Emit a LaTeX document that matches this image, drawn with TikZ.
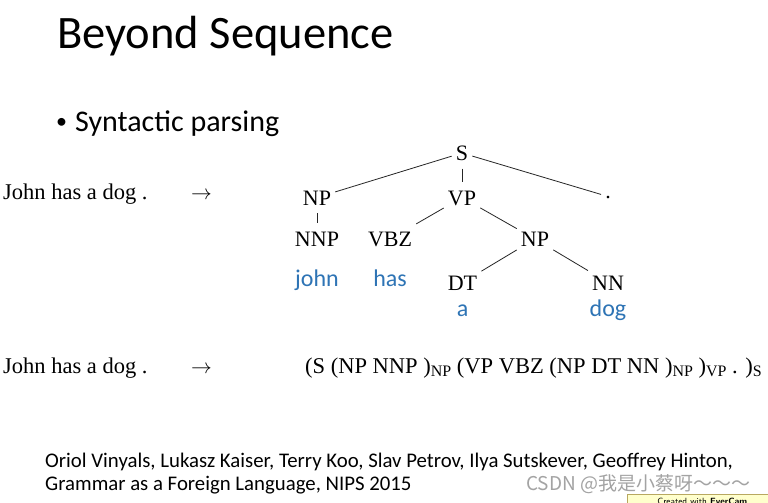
\documentclass[tikz,border=0pt]{standalone}
\usepackage{fontspec}
\setmainfont{Liberation Serif}
\newfontfamily\slidefont{Carlito}
\newfontfamily\cjkfont{Noto Sans CJK SC}
\usetikzlibrary{positioning}
\definecolor{WordBlue}{HTML}{2E74B5}
\definecolor{MarkGray}{HTML}{A3A3A3}
\definecolor{BadgeYellow}{HTML}{FFFFCC}
\definecolor{BadgeEdge}{HTML}{B8A860}
\newcommand{\phr}[1]{\raisebox{-0.3ex}{\fontsize{16}{16}\selectfont #1}}

\begin{document}
\begin{tikzpicture}[
  x=1pt,y=-1pt,
  every node/.style={inner sep=0pt},
  title/.style={anchor=base west,font=\slidefont\fontsize{46.5}{46.5}\selectfont},
  point/.style={anchor=base west,font=\slidefont\fontsize{30}{30}\selectfont},
  cat/.style={font=\fontsize{22}{22}\selectfont,text height=15pt,text depth=0pt,
    inner xsep=4pt,inner ysep=8pt},
  word/.style={anchor=base,text=WordBlue,font=\slidefont\fontsize{24}{24}\selectfont},
  sent/.style={anchor=base west,font=\fontsize{22.5}{22.5}\selectfont},
  cite/.style={anchor=base west,font=\slidefont\fontsize{20.8}{20.8}\selectfont},
  badge/.style={anchor=north west,fill=BadgeYellow,draw=BadgeEdge,line width=0.5pt,
    minimum width=150pt,minimum height=14pt,inner xsep=6pt,inner ysep=1.5pt,
    align=left,font=\sffamily\fontsize{9}{9}\selectfont},
  branch/.style={line width=0.8pt,draw=black!85}
]
  \fill[white] (0,0) rectangle (768,503);
  \useasboundingbox (0,0) rectangle (768,503);

  % heading
  \node[title] (head) at (57,48.5) {Beyond Sequence};
  \node[point,font=\slidefont\fontsize{22}{22}\selectfont] (dotpt) at (56,128.5) {\textbullet};
  \node[point] (task) at (75,131.5) {Syntactic parsing};

  % parse tree
  \node[cat] (s) at (462,153) {S};
  \node[cat] (np) at (317,197.5) {NP};
  \node[cat] (vp) at (462,197.5) {VP};
  \node[cat,text height=3pt] (stop) at (608,196.5) {.};
  \node[cat] (nnp) at (317,239) {NNP};
  \node[cat] (vbz) at (390,239) {VBZ};
  \node[cat] (np2) at (535,239) {NP};
  \node[cat] (dt) at (462.5,282.5) {DT};
  \node[cat] (nn) at (608,282.5) {NN};
  \foreach \a/\b in {s/np,s/vp,s/stop,np/nnp,vp/vbz,vp/np2,np2/dt,np2/nn}
    {\draw[branch] (\a) -- (\b);}

  \node[word] (john) at (317,286.5) {john};
  \node[word] (has) at (390,286.5) {has};
  \node[word] (a) at (462.5,316.5) {a};
  \node[word] (dog) at (608,316.5) {dog};

  % sentence -> tree, sentence -> bracketing
  \node[sent] (src1) at (3,199) {John has a dog .};
  \node[sent] (arr1) at (191,199) {$\rightarrow$};
  \node[sent] (src2) at (3,373) {John has a dog .};
  \node[sent] (arr2) at (191,373) {$\rightarrow$};
  \node[sent] (lin) at (305,373) {(S (NP NNP )\phr{NP} (VP VBZ (NP DT NN )\phr{NP} )\phr{VP} . )\phr{S}};

  % reference
  \node[cite] (ref1) at (45,467) {Oriol Vinyals, Lukasz Kaiser, Terry Koo, Slav Petrov, Ilya Sutskever, Geoffrey Hinton,};
  \node[cite] (ref2) at (45,490) {Grammar as a Foreign Language, NIPS 2015};

  \node[anchor=base west,text=MarkGray,font=\cjkfont\fontsize{19}{19}\selectfont]
    (mark) at (526,490) {CSDN @我是小蔡呀～～～};
  \node[badge] (ever) at (627,494) {Created with \textbf{EverCam}};
\end{tikzpicture}
\end{document}
